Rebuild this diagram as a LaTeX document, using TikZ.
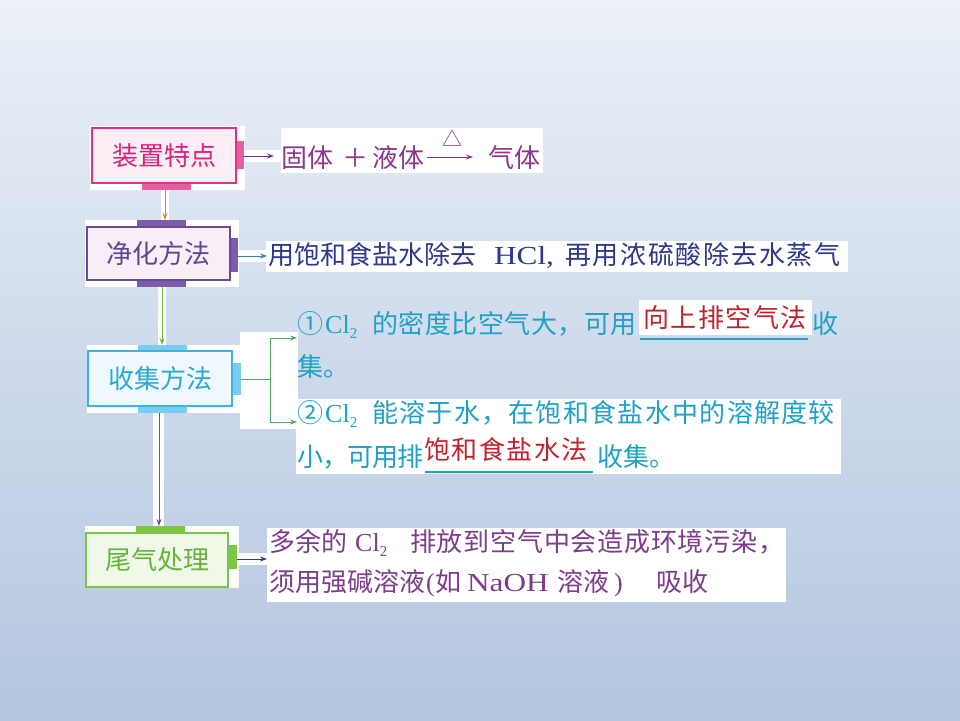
\documentclass[tikz,border=0pt]{standalone}
\usepackage{fontspec}
\usepackage{graphicx}
\setmainfont{Liberation Serif}
\newfontfamily\cjk{Noto Sans CJK SC}
\newfontfamily\lat{Liberation Serif}
\newfontfamily\latw[FakeStretch=1.2]{Liberation Serif}
\usetikzlibrary{arrows.meta}
\newcommand\sz[1]{\fontsize{#1}{#1}\selectfont}
\newcommand\ls[1]{\addfontfeature{LetterSpace=#1}}
\newcommand\subtwo{\raisebox{-5pt}{\sz{15}2}}

\definecolor{bgtop}{RGB}{236,241,248}
\definecolor{bgmid}{RGB}{206,218,235}
\definecolor{bgbot}{RGB}{180,198,224}

\definecolor{pinkB}{RGB}{222,50,130}
\definecolor{pinkF}{RGB}{251,238,245}
\definecolor{pinkT}{RGB}{228,95,160}
\definecolor{pinkX}{RGB}{214,35,125}
\definecolor{purB}{RGB}{105,75,155}
\definecolor{purF}{RGB}{247,238,247}
\definecolor{purT}{RGB}{125,90,170}
\definecolor{purX}{RGB}{95,70,145}
\definecolor{bluB}{RGB}{60,180,225}
\definecolor{bluF}{RGB}{238,248,253}
\definecolor{bluT}{RGB}{120,205,240}
\definecolor{bluX}{RGB}{40,170,210}
\definecolor{grnB}{RGB}{120,195,75}
\definecolor{grnF}{RGB}{240,249,232}
\definecolor{grnT}{RGB}{125,200,65}
\definecolor{grnX}{RGB}{100,180,60}

\definecolor{txA}{RGB}{140,55,140}
\definecolor{txB}{RGB}{45,55,140}
\definecolor{txC}{RGB}{30,160,200}
\definecolor{txR}{RGB}{190,35,45}
\definecolor{txD}{RGB}{125,60,140}

\definecolor{arH1}{RGB}{90,60,150}
\definecolor{arV1}{RGB}{200,145,45}
\definecolor{arH2}{RGB}{55,125,190}
\definecolor{arV2}{RGB}{125,180,60}
\definecolor{arBr}{RGB}{80,170,110}
\definecolor{arV3}{RGB}{120,70,160}
\definecolor{arH4}{RGB}{45,60,140}

\begin{document}
\begin{tikzpicture}[x=1pt,y=-1pt,
  box/.style={draw, line width=2pt, inner sep=0pt, font=\cjk\sz{26}},
  txt/.style={anchor=base west, inner sep=0pt, font=\cjk\sz{26}},
  latx/.style={anchor=base west, inner sep=0pt, font=\lat\sz{26}},
  wbg/.style={fill=white},
  tip/.style={-{Stealth[length=7pt,width=5pt]}},
  conn/.style={line width=1pt}
]
% background
\fill[top color=bgtop, bottom color=bgbot, middle color=bgmid] (0,0) rectangle (960,720);
\useasboundingbox (0,0) rectangle (960,720);

% ---------- white backdrops ----------
\fill[wbg] (90,126) rectangle (245,190);
\fill[wbg] (244,150) rectangle (282,162);
\fill[wbg] (281,128) rectangle (543,173);
\fill[wbg] (161,189) rectangle (169,221);
\fill[wbg] (85,220) rectangle (239,287);
\fill[wbg] (238,250) rectangle (267,262);
\fill[wbg] (266,241) rectangle (848,272);
\fill[wbg] (158,286) rectangle (166,346);
\fill[wbg] (87,345) rectangle (241,413);
\fill[wbg] (240,332) rectangle (298,429);
\fill[wbg] (639,300) rectangle (812,335);
\fill[wbg] (296,399) rectangle (841,474);
\fill[wbg] (153,412) rectangle (164,527);
\fill[wbg] (85,526) rectangle (239,588);
\fill[wbg] (237,553) rectangle (268,565);
\fill[wbg] (267,528) rectangle (786,602);

% ---------- box 1 ----------
\fill[pinkT] (236,141) rectangle (244,169);
\fill[pinkT] (142,183) rectangle (191,190);
\node[box, draw=pinkB, fill=pinkF, text=pinkX, minimum width=144pt, minimum height=55pt] (b1) at (164,155.5) {装置特点};

% ---------- box 2 ----------
\fill[purT] (137,220) rectangle (186,227);
\fill[purT] (230,238) rectangle (238,272);
\fill[purT] (137,280) rectangle (186,287);
\node[box, draw=purB, fill=purF, text=purX, minimum width=143pt, minimum height=53pt] (b2) at (158.5,253.5) {净化方法};

% ---------- box 3 ----------
\fill[bluT] (138,345) rectangle (187,351);
\fill[bluT] (232,363) rectangle (241,395);
\fill[bluT] (138,406) rectangle (187,413);
\node[box, draw=bluB, fill=bluF, text=bluX, minimum width=144pt, minimum height=55pt] (b3) at (160,378.5) {收集方法};

% ---------- box 4 ----------
\fill[grnT] (136,526) rectangle (185,533);
\fill[grnT] (228,545) rectangle (237,569);
\node[box, draw=grnB, fill=grnF, text=grnX, minimum width=142pt, minimum height=54pt] (b4) at (157,560) {尾气处理};

% ---------- connector end points ----------
\coordinate (b1e) at (244,156);
\coordinate (t1in) at (274,156);
\coordinate (b1s) at (165,190);
\coordinate (b2n) at (165,220);
\coordinate (b2e) at (238,256);
\coordinate (t2in) at (267,256);
\coordinate (b2s) at (162,287);
\coordinate (b3n) at (162,345);
\coordinate (b3e) at (241,379);
\coordinate (brk) at (270,379);
\coordinate (t3in1) at (297,338);
\coordinate (t3in2) at (297,422);
\coordinate (b3s) at (159,413);
\coordinate (b4n) at (159,526);
\coordinate (b4e) at (237,559);
\coordinate (t4in) at (267,559);

\draw[conn, arH1, tip] (b1e) -- (t1in);
\draw[conn, arV1, tip] (b1s) -- (b2n);
\draw[conn, arH2, tip] (b2e) -- (t2in);
\draw[conn, arV2, tip] (b2s) -- (b3n);
\draw[conn, arBr] (b3e) -- (brk);
\draw[conn, arBr, tip] (brk) |- (t3in1);
\draw[conn, arBr, tip] (brk) |- (t3in2);
\draw[conn, arV3, tip] (b3s) -- (b4n);
\draw[conn, arH4, tip] (b4e) -- (t4in);

% ---------- text 1 ----------
\node[txt, text=txA] (t1a) at (281,167) {固体};
\node[txt, text=txA, anchor=base] (t1p) at (355,167) {＋};
\node[txt, text=txA] (t1b) at (372,167) {液体};
\coordinate (r1) at (427,157);
\coordinate (r2) at (473,157);
\draw[conn, txA, tip] (r1) -- (r2);
\node[inner sep=0pt, font=\cjk\sz{20}, text=txA] (tri) at (452,138) {△};
\node[txt, text=txA] (t1d) at (488,167) {气体};

% ---------- text 2 ----------
\node[txt, text=txB] (t2a) at (268,264) {用饱和食盐水除去};
\node[latx, text=txB, font=\latw\sz{26}] (t2b) at (494,264) {HCl,};
\node[txt, text=txB, font=\cjk\sz{26}\ls{6.5}] (t2c) at (565,264) {再用浓硫酸除去水蒸气};

% ---------- text 3 ----------
\node[txt, text=txC] (t3a) at (297,333) {①};
\node[latx, text=txC] (t3b) at (325,333) {Cl\subtwo};
\node[txt, text=txC, font=\cjk\sz{26}\ls{2}] (t3c) at (372,333) {的密度比空气大，可用};
\node[txt, text=txR, font=\cjk\sz{26}\ls{6}] (ans1) at (643,327) {向上排空气法};
\coordinate (u1a) at (640,339);
\coordinate (u1b) at (808,339);
\draw[line width=1.5pt, txC] (u1a) -- (u1b);
\node[txt, text=txC] (t3d) at (812,333) {收};
\node[txt, text=txC] (t3e) at (297,376) {集。};

\node[txt, text=txC] (t3f) at (297,422) {②};
\node[latx, text=txC] (t3g) at (325,422) {Cl\subtwo};
\node[txt, text=txC, font=\cjk\sz{26}\ls{5}] (t3h) at (372,422) {能溶于水，在饱和食盐水中的溶解度较};
\node[txt, text=txC, font=\cjk\sz{26}\ls{-4}] (t3i) at (297,466) {小，可用排};
\node[txt, text=txR, font=\cjk\sz{26}\ls{6}] (ans2) at (424,459) {饱和食盐水法};
\coordinate (u2a) at (425,472);
\coordinate (u2b) at (593,472);
\draw[line width=1.5pt, txC] (u2a) -- (u2b);
\node[txt, text=txC] (t3j) at (597,466) {收集。};

% ---------- text 4 ----------
\node[txt, text=txD] (t4a) at (269,551) {多余的};
\node[latx, text=txD] (t4b) at (355,551) {Cl\subtwo};
\node[txt, text=txD, font=\cjk\sz{26}\ls{3}] (t4c) at (410,551) {排放到空气中会造成环境污染，};
\node[txt, text=txD] (t4d) at (269,591) {须用强碱溶液};
\node[latx, text=txD] (t4e) at (426,591) {(};
\node[txt, text=txD] (t4f) at (435,591) {如};
\node[latx, text=txD, font=\latw\sz{26}] (t4g) at (467,591) {NaOH};
\node[txt, text=txD] (t4h) at (557,591) {溶液};
\node[latx, text=txD] (t4i) at (614,591) {)};
\node[txt, text=txD] (t4j) at (656,591) {吸收};
\end{tikzpicture}
\end{document}
